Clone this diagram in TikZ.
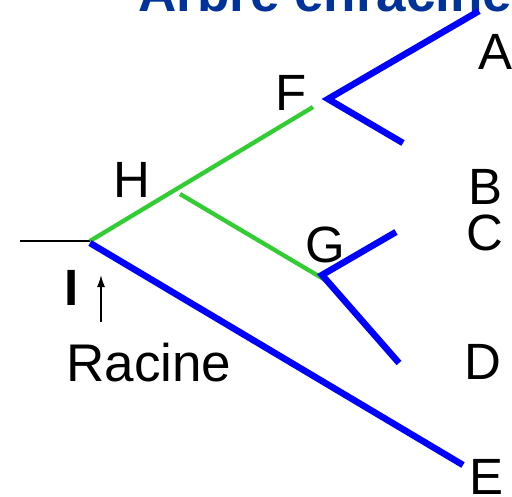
\documentclass[tikz,border=0pt]{standalone}
\usepackage{fontspec}
\setmainfont{Liberation Sans}
\usepackage{tikz}
\usetikzlibrary{arrows.meta}

\definecolor{titreblue}{RGB}{0,51,153}
\definecolor{branchgreen}{RGB}{50,205,50}

\begin{document}
\begin{tikzpicture}[
    x=1pt, y=-1pt,
    lettre/.style={inner sep=0pt, font=\fontsize{51}{51}\selectfont},
    titre/.style={inner sep=0pt, anchor=base west, text=titreblue, font=\fontsize{53}{53}\selectfont\bfseries},
    verte/.style={draw=branchgreen, line width=4.3pt},
    bleue/.style={draw=blue, line width=6.5pt},
    fleche/.style={-{Latex[length=12pt,width=8pt]}, line width=1.5pt}
]
\useasboundingbox (0,0) rectangle (512,496);
\clip (0,0) rectangle (512,496);

\node[titre] (titre) at (138,11) {Arbre enraciné};

% sommets de l'arbre
\coordinate (tige) at (20,241);
\coordinate (I) at (90,241);
\coordinate (Ib) at (90,243);
\coordinate (H) at (180,194);
\coordinate (Fg) at (313,107);
\coordinate (F) at (328,99);
\coordinate (G) at (322,275);
\coordinate (Gg) at (327,281);
\coordinate (a) at (479,11);
\coordinate (b) at (403,143);
\coordinate (c) at (396,232);
\coordinate (d) at (399,363);
\coordinate (e) at (463,465);
\coordinate (basefl) at (101,322);
\coordinate (pointefl) at (101,275);

% etiquettes
\node[lettre] (lA) at (496,52) {A};
\node[lettre] (lB) at (486,187) {B};
\node[lettre] (lC) at (485,233) {C};
\node[lettre] (lD) at (483,362) {D};
\node[lettre] (lE) at (487,477) {E};
\node[lettre] (lF) at (291,93) {F};
\node[lettre] (lG) at (325,245) {G};
\node[lettre] (lH) at (132,180) {H};
\node[lettre, font=\fontsize{51}{51}\selectfont\bfseries] (lI) at (72,288) {I};
\node[lettre, font=\fontsize{53}{53}\selectfont] (racine) at (149,363) {Racine};

% branches
\draw[line width=1.5pt] (tige) -- (I);
\draw[verte] (I) -- (Fg);
\draw[verte] (H) -- (Gg);
\draw[bleue] (a) -- (F) -- (b);
\draw[bleue] (c) -- (G) -- (d);
\draw[bleue] (Ib) -- (e);
\draw[fleche] (basefl) -- (pointefl);

\end{tikzpicture}
\end{document}
